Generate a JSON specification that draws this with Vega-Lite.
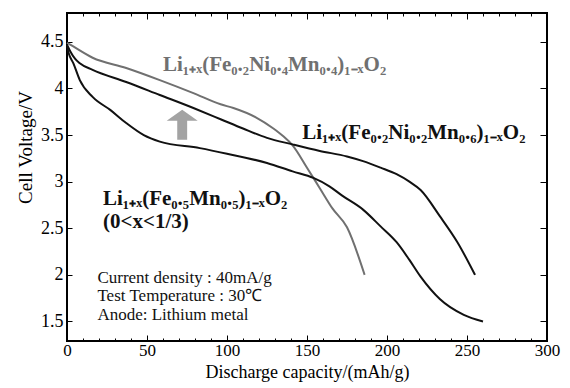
{
  "$schema": "https://vega.github.io/schema/vega-lite/v6.json",
  "width": 480,
  "height": 328,
  "autosize": {"type": "none"},
  "padding": {"left": 67, "top": 13, "right": 23, "bottom": 47},
  "background": "white",
  "config": {
    "view": {"stroke": "black", "strokeWidth": 2},
    "font": "Liberation Serif",
    "axis": {"grid": false, "domain": false, "tickColor": "black", "tickWidth": 1, "labelColor": "black", "titleColor": "black", "labelFont": "Liberation Serif", "titleFont": "Liberation Serif", "labelFontSize": 18, "titleFontSize": 19, "titleFontWeight": "normal"}
  },
  "resolve": {"axis": {"x": "independent", "y": "independent"}},
  "layer": [
    {
      "data": {"values": [
        {"series": "A", "cap": 0, "v": 4.49}, {"series": "A", "cap": 2, "v": 4.47}, {"series": "A", "cap": 16, "v": 4.33}, {"series": "A", "cap": 37, "v": 4.22}, {"series": "A", "cap": 58, "v": 4.09}, {"series": "A", "cap": 79, "v": 3.95}, {"series": "A", "cap": 96, "v": 3.83}, {"series": "A", "cap": 104, "v": 3.79}, {"series": "A", "cap": 118, "v": 3.69}, {"series": "A", "cap": 129, "v": 3.57}, {"series": "A", "cap": 135, "v": 3.49}, {"series": "A", "cap": 141, "v": 3.39}, {"series": "A", "cap": 150, "v": 3.15}, {"series": "A", "cap": 158, "v": 2.93}, {"series": "A", "cap": 166, "v": 2.71}, {"series": "A", "cap": 175, "v": 2.51}, {"series": "A", "cap": 186, "v": 2.0},
        {"series": "B", "cap": 0, "v": 4.47}, {"series": "B", "cap": 2, "v": 4.40}, {"series": "B", "cap": 5, "v": 4.32}, {"series": "B", "cap": 8, "v": 4.27}, {"series": "B", "cap": 16, "v": 4.20}, {"series": "B", "cap": 37, "v": 4.07}, {"series": "B", "cap": 58, "v": 3.93}, {"series": "B", "cap": 79, "v": 3.79}, {"series": "B", "cap": 96, "v": 3.67}, {"series": "B", "cap": 110, "v": 3.57}, {"series": "B", "cap": 125, "v": 3.47}, {"series": "B", "cap": 141, "v": 3.40}, {"series": "B", "cap": 158, "v": 3.33}, {"series": "B", "cap": 175, "v": 3.27}, {"series": "B", "cap": 185, "v": 3.22}, {"series": "B", "cap": 196, "v": 3.15}, {"series": "B", "cap": 206, "v": 3.08}, {"series": "B", "cap": 214, "v": 3.00}, {"series": "B", "cap": 221, "v": 2.91}, {"series": "B", "cap": 233, "v": 2.63}, {"series": "B", "cap": 244, "v": 2.35}, {"series": "B", "cap": 255, "v": 2.0},
        {"series": "C", "cap": 0, "v": 4.45}, {"series": "C", "cap": 1, "v": 4.38}, {"series": "C", "cap": 4, "v": 4.27}, {"series": "C", "cap": 8, "v": 4.09}, {"series": "C", "cap": 16, "v": 3.91}, {"series": "C", "cap": 27, "v": 3.77}, {"series": "C", "cap": 37, "v": 3.63}, {"series": "C", "cap": 48, "v": 3.50}, {"series": "C", "cap": 58, "v": 3.43}, {"series": "C", "cap": 83, "v": 3.36}, {"series": "C", "cap": 100, "v": 3.30}, {"series": "C", "cap": 125, "v": 3.20}, {"series": "C", "cap": 141, "v": 3.11}, {"series": "C", "cap": 154, "v": 3.04}, {"series": "C", "cap": 164, "v": 2.95}, {"series": "C", "cap": 172, "v": 2.85}, {"series": "C", "cap": 185, "v": 2.70}, {"series": "C", "cap": 196, "v": 2.52}, {"series": "C", "cap": 206, "v": 2.35}, {"series": "C", "cap": 214, "v": 2.16}, {"series": "C", "cap": 221, "v": 1.98}, {"series": "C", "cap": 233, "v": 1.74}, {"series": "C", "cap": 248, "v": 1.57}, {"series": "C", "cap": 260, "v": 1.50}
      ]},
      "mark": {"type": "line", "strokeWidth": 2, "interpolate": "monotone"},
      "encoding": {
        "x": {"field": "cap", "type": "quantitative", "scale": {"domain": [0, 300], "nice": false},
          "axis": {"orient": "bottom", "title": "Discharge capacity/(mAh/g)", "values": [0,10,20,30,40,50,60,70,80,90,100,110,120,130,140,150,160,170,180,190,200,210,220,230,240,250,260,270,280,290,300], "labelExpr": "datum.value % 50 === 0 ? '' + datum.value : ''", "labelOverlap": false, "labelFlush": false, "labelFontSize": 17, "tickSize": {"condition": {"test": "datum.value % 50 === 0", "value": -6}, "value": -3}, "labelPadding": 7, "titleFontSize": 18, "titleBaseline": "alphabetic", "titleY": 36}},
        "y": {"field": "v", "type": "quantitative", "scale": {"domain": [1.29, 4.81], "nice": false, "zero": false},
          "axis": {"orient": "left", "title": "Cell Voltage/V", "values": [1.5, 2, 2.5, 3, 3.5, 4, 4.5], "labelExpr": "'' + datum.value", "labelOverlap": false, "labelFlush": false, "tickSize": -5, "labelPadding": 9, "titleX": -42, "titleY": 134, "titleBaseline": "middle"}},
        "color": {"field": "series", "type": "nominal", "scale": {"domain": ["A", "B", "C"], "range": ["#707070", "#111111", "#111111"]}, "legend": null}
      }
    },
    {
      "data": {"values": [
        {"x": 60, "y": 4.25, "label": "Li₁₊ₓ(Fe₀.₂Ni₀.₄Mn₀.₄)₁₋ₓO₂", "c": "gray"},
        {"x": 147, "y": 3.52, "label": "Li₁₊ₓ(Fe₀.₂Ni₀.₂Mn₀.₆)₁₋ₓO₂", "c": "black"},
        {"x": 22.5, "y": 2.81, "label": "Li₁₊ₓ(Fe₀.₅Mn₀.₅)₁₋ₓO₂", "c": "black"},
        {"x": 22.5, "y": 2.57, "label": "(0<x<1/3)", "c": "black"}
      ]},
      "mark": {"type": "text", "align": "left", "baseline": "middle", "fontSize": 21, "fontWeight": "bold", "font": "Liberation Serif"},
      "encoding": {
        "x": {"field": "x", "type": "quantitative", "axis": {"orient": "top", "title": null, "labels": false, "values": [0,10,20,30,40,50,60,70,80,90,100,110,120,130,140,150,160,170,180,190,200,210,220,230,240,250,260,270,280,290,300], "tickSize": {"condition": {"test": "datum.value % 50 === 0", "value": -6}, "value": -3}}},
        "y": {"field": "y", "type": "quantitative", "axis": {"orient": "right", "title": null, "labels": false, "values": [1.5, 2, 2.5, 3, 3.5, 4, 4.5], "tickSize": -7}},
        "text": {"field": "label"},
        "color": {"field": "c", "type": "nominal", "scale": {"domain": ["gray", "black"], "range": ["#6a6a6a", "#111111"]}, "legend": null}
      }
    },
    {
      "data": {"values": [
        {"x": 19, "y": 1.97, "label": "Current density : 40mA/g"},
        {"x": 19, "y": 1.77, "label": "Test Temperature : 30℃"},
        {"x": 19, "y": 1.57, "label": "Anode: Lithium metal"}
      ]},
      "mark": {"type": "text", "align": "left", "baseline": "middle", "fontSize": 17, "font": "Liberation Serif", "color": "#111111"},
      "encoding": {
        "x": {"field": "x", "type": "quantitative", "axis": null},
        "y": {"field": "y", "type": "quantitative", "axis": null},
        "text": {"field": "label"}
      }
    },
    {
      "data": {"values": [{"x": 72, "y": 3.61}]},
      "mark": {"type": "point", "shape": "M0,-0.97L1,-0.26L0.32,-0.26L0.32,0.97L-0.32,0.97L-0.32,-0.26L-1,-0.26Z", "size": 961, "filled": true, "color": "#a3a3a3", "opacity": 1, "strokeWidth": 0},
      "encoding": {
        "x": {"field": "x", "type": "quantitative", "axis": null},
        "y": {"field": "y", "type": "quantitative", "axis": null}
      }
    }
  ]
}
